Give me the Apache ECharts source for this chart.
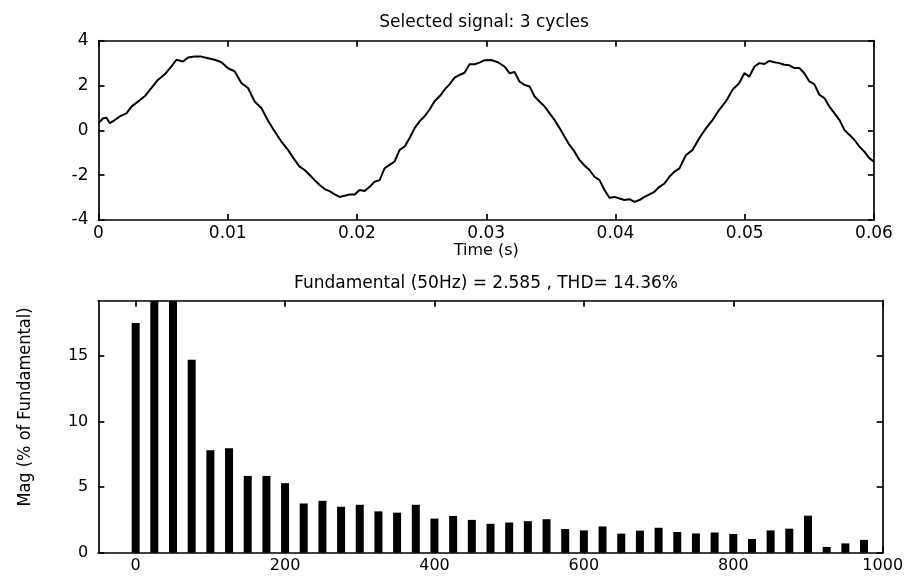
<!DOCTYPE html>
<html>
<head>
<meta charset="utf-8">
<script src="https://cdn.jsdelivr.net/npm/echarts@6/dist/echarts.min.js"></script>
<style>
  html, body { margin: 0; padding: 0; background: #fff; }
  #chart { width: 912px; height: 577px; }
</style>
</head>
<body>
<div id="chart"></div>
<script>
// Sampled waveform: time (s) and amplitude
const signalTime = [
  0, 0.00036, 0.00062, 0.00087, 0.00126, 0.00165, 0.00216, 0.00255, 0.00306, 0.00358,
  0.00410, 0.00461, 0.00513, 0.00564, 0.00603, 0.00654, 0.00693, 0.00745, 0.00796, 0.00848,
  0.00899, 0.00951, 0.01002, 0.01054, 0.01105, 0.01157, 0.01208, 0.01260, 0.01312, 0.01363,
  0.01415, 0.01466, 0.01518,
  0.01556, 0.01595, 0.01634, 0.01672, 0.01711, 0.01750, 0.01788, 0.01827, 0.01866, 0.01904,
  0.01943, 0.01982, 0.02020, 0.02059, 0.02098, 0.02136, 0.02175, 0.02214, 0.02252, 0.02291,
  0.02330, 0.02369, 0.02407, 0.02446, 0.02484, 0.02523, 0.02562, 0.02600, 0.02639, 0.02678,
  0.02716, 0.02755, 0.02794, 0.02832, 0.02871, 0.02910, 0.02948, 0.02987,
  0.03038, 0.03090, 0.03141, 0.03180, 0.03219, 0.03257, 0.03296, 0.03335, 0.03373, 0.03412,
  0.03451, 0.03489, 0.03528, 0.03567, 0.03605, 0.03644, 0.03683, 0.03721, 0.03760, 0.03799,
  0.03837, 0.03876, 0.03915, 0.03953, 0.03992, 0.04031, 0.04069, 0.04108, 0.04147, 0.04185,
  0.04224, 0.04263, 0.04301, 0.04340, 0.04379, 0.04417, 0.04456, 0.04495,
  0.04520, 0.04546, 0.04597, 0.04649, 0.04701, 0.04752, 0.04804, 0.04855, 0.04907, 0.04958,
  0.04997, 0.05036, 0.05075, 0.05113, 0.05152, 0.05190, 0.05229, 0.05268, 0.05306, 0.05345,
  0.05384, 0.05422, 0.05461, 0.05500, 0.05538, 0.05577, 0.05616, 0.05654, 0.05693, 0.05732,
  0.05770, 0.05809, 0.05848, 0.05886, 0.05925, 0.05964, 0.06
];
const signalValue = [
  0.32, 0.54, 0.56, 0.32, 0.46, 0.62, 0.76, 1.06, 1.29, 1.52,
  1.89, 2.26, 2.50, 2.85, 3.15, 3.07, 3.25, 3.29, 3.29, 3.22,
  3.15, 3.04, 2.77, 2.63, 2.11, 1.89, 1.29, 1.00, 0.43, -0.05,
  -0.50, -0.87, -1.32,
  -1.62, -1.77, -1.99, -2.22, -2.44, -2.62, -2.71, -2.86, -2.97, -2.92,
  -2.86, -2.86, -2.66, -2.71, -2.52, -2.29, -2.22, -1.69, -1.54, -1.39,
  -0.87, -0.72, -0.34, 0.10, 0.40, 0.63, 0.93, 1.30, 1.52, 1.82,
  2.05, 2.35, 2.47, 2.57, 2.95, 2.95, 3.02, 3.13,
  3.14, 3.04, 2.85, 2.55, 2.60, 2.18, 2.03, 1.96, 1.52, 1.29,
  1.07, 0.77, 0.47, 0.10, -0.27, -0.65, -0.95, -1.32, -1.57, -1.77,
  -2.07, -2.22, -2.66, -3.01, -2.97, -3.04, -3.11, -3.07, -3.19, -3.11,
  -2.97, -2.86, -2.74, -2.52, -2.37, -2.07, -1.84, -1.70,
  -1.39, -1.10, -0.87, -0.34, 0.10, 0.47, 0.93, 1.30, 1.82, 2.11,
  2.55, 2.40, 2.85, 3.00, 2.96, 3.10, 3.04, 3.00, 2.93, 2.90,
  2.78, 2.78, 2.55, 2.18, 2.06, 1.59, 1.44, 1.07, 0.77, 0.47,
  0.03, -0.20, -0.42, -0.72, -0.95, -1.24, -1.40
];

// Spectrum: frequency (Hz) and magnitude (% of fundamental)
const harmonicFreq = [
  0, 25, 50, 75, 100, 125, 150, 175, 200, 225,
  250, 275, 300, 325, 350, 375, 400, 425, 450, 475,
  500, 525, 550, 575, 600, 625, 650, 675, 700, 725,
  750, 775, 800, 825, 850, 875, 900, 925, 950, 975
];
const harmonicMag = [
  17.5, 30, 100, 14.7, 7.8, 7.95, 5.85, 5.85, 5.3, 3.75,
  3.95, 3.5, 3.65, 3.15, 3.05, 3.65, 2.6, 2.8, 2.5, 2.2,
  2.3, 2.4, 2.55, 1.8, 1.7, 2.0, 1.45, 1.68, 1.9, 1.58,
  1.47, 1.54, 1.43, 1.04, 1.7, 1.83, 2.82, 0.44, 0.71, 0.98
];

// Tick positions
const timeTicks = [0, 0.01, 0.02, 0.03, 0.04, 0.05, 0.06];
const signalTicks = [-4, -2, 0, 2, 4];
const freqTicks = [0, 200, 400, 600, 800, 1000];
const magTicks = [0, 5, 10, 15];

const titleTop = 'Selected signal: 3 cycles';
const titleBottom = 'Fundamental (50Hz) = 2.585 , THD= 14.36%';
const timeLabel = 'Time (s)';
const magLabel = 'Mag (% of Fundamental)';

const FONT = '"DejaVu Sans", "Liberation Sans", sans-serif';
const NARROW = '"DejaVu Sans Condensed", "Liberation Sans Narrow", "DejaVu Sans", sans-serif';
const INK = '#000';
const lineStyle = { color: INK, width: 1.7 };

function boxAxis(grid, position, min, max, ticks, labelOpts, extra) {
  return Object.assign({
    type: 'value',
    gridIndex: grid,
    position: position,
    min: min,
    max: max,
    splitLine: { show: false },
    axisLine: { show: true, onZero: false, lineStyle: lineStyle },
    axisTick: { show: true, inside: true, length: 6, customValues: ticks, lineStyle: lineStyle },
    axisLabel: labelOpts
      ? Object.assign({ show: true, customValues: ticks, color: INK, fontFamily: FONT }, labelOpts)
      : { show: false }
  }, extra || {});
}

const chart = echarts.init(document.getElementById('chart'), null, { renderer: 'canvas' });

chart.setOption({
  animation: false,
  backgroundColor: '#fff',
  grid: [
    { left: 98.5, top: 40.7, width: 775.5, height: 179.3, outerBoundsMode: 'none' },
    { left: 98.3, top: 300.7, width: 784.4, height: 252, outerBoundsMode: 'none' }
  ],
  graphic: [
    {
      type: 'text', x: 484, y: 22.5,
      style: { text: titleTop, textAlign: 'center', textVerticalAlign: 'middle',
               fontFamily: FONT, fontSize: 17, fill: INK }
    },
    {
      type: 'text', x: 486, y: 284,
      style: { text: titleBottom, textAlign: 'center', textVerticalAlign: 'middle',
               fontFamily: FONT, fontSize: 17, fill: INK }
    },
    {
      type: 'text', x: 25, y: 407, rotation: Math.PI / 2,
      style: { text: magLabel, textAlign: 'center', textVerticalAlign: 'middle',
               fontFamily: NARROW, fontSize: 18, fill: INK }
    }
  ],
  xAxis: [
    boxAxis(0, 'bottom', 0, 0.06, timeTicks,
      { fontSize: 17, margin: 5, formatter: v => (v === 0 ? '0' : v.toFixed(2)) },
      { name: timeLabel, nameLocation: 'middle', nameGap: 20,
        nameTextStyle: { color: INK, fontFamily: FONT, fontSize: 16 } }),
    boxAxis(0, 'top', 0, 0.06, timeTicks, null),
    boxAxis(1, 'bottom', -50, 1000, freqTicks, { fontSize: 16, margin: 5, formatter: v => String(v) }),
    boxAxis(1, 'top', -50, 1000, freqTicks, null)
  ],
  yAxis: [
    boxAxis(0, 'left', -4, 4, signalTicks, { fontSize: 17, margin: 10 }),
    boxAxis(0, 'right', -4, 4, signalTicks, null),
    boxAxis(1, 'left', 0, 19.2, magTicks, { fontSize: 16, margin: 10 }),
    boxAxis(1, 'right', 0, 19.2, magTicks, null)
  ],
  series: [
    {
      type: 'line',
      xAxisIndex: 0,
      yAxisIndex: 0,
      data: signalTime.map((t, i) => [t, signalValue[i]]),
      showSymbol: false,
      lineStyle: { color: INK, width: 2 },
      silent: true
    },
    {
      type: 'bar',
      xAxisIndex: 2,
      yAxisIndex: 2,
      data: harmonicFreq.map((f, i) => [f, harmonicMag[i]]),
      barWidth: 8,
      clip: true,
      itemStyle: { color: INK },
      silent: true
    }
  ]
});
</script>
</body>
</html>
